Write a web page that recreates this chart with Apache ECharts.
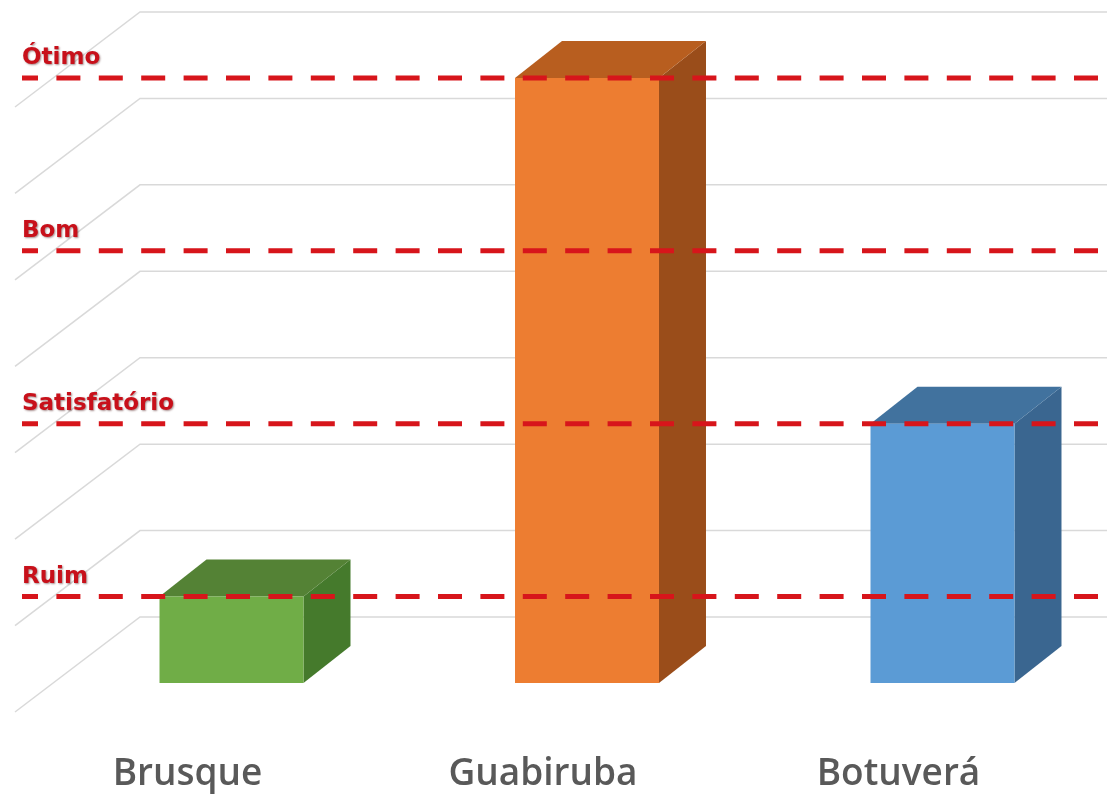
<!DOCTYPE html>
<html>
<head>
<meta charset="utf-8">
<script src="https://cdn.jsdelivr.net/npm/echarts@6/dist/echarts.min.js"></script>
<style>html,body{margin:0;padding:0;background:#fff;}#c{width:1107px;height:798px;}</style>
</head>
<body>
<div id="c"></div>
<script>
var categories = ['Brusque', 'Guabiruba', 'Botuverá'];
var values = [1, 7, 3];
var gridValues = [0, 1, 2, 3, 4, 5, 6, 7];
var levelNames = ['Ruim', 'Satisfatório', 'Bom', 'Ótimo'];
var levelValues = [1, 3, 5, 7];
var frontColors = ['#70AD47', '#ED7D31', '#5B9BD5'];
var topColors = ['#548235', '#B85E1F', '#41729E'];
var sideColors = ['#457A2C', '#9A4D1A', '#3A6690'];

var chart = echarts.init(document.getElementById('c'), null, {renderer: 'canvas'});

var DX = 47, DY = -37;          // bar depth offset
var WALL_DY = -66;              // back wall shift
var SIDE_BACK_X = 140, SIDE_FRONT_X = 15, SIDE_DY = 95;

var option = {
  animation: false,
  backgroundColor: '#ffffff',
  grid: {left: 231.5, right: 164.5, top: 78, bottom: 115, containLabel: false},
  xAxis: {
    type: 'category',
    data: categories,
    boundaryGap: false,
    axisLine: {show: false},
    axisTick: {show: false},
    splitLine: {show: false},
    axisLabel: {
      margin: 73,
      fontFamily: 'Open Sans',
      fontWeight: 600,
      fontSize: 37,
      color: '#595959',
      padding: [0, 88, 0, 0]
    }
  },
  yAxis: {
    type: 'value', min: 0, max: 7, interval: 1,
    axisLine: {show: false}, axisTick: {show: false},
    axisLabel: {show: false}, splitLine: {show: false}
  },
  series: [
    {
      type: 'custom',
      name: 'grid',
      data: gridValues.map(function (v) { return [0, v]; }),
      z: 1,
      silent: true,
      clip: false,
      renderItem: function (params, api) {
        var p = api.coord([0, api.value(1)]);
        var by = p[1] + WALL_DY;
        return {
          type: 'polyline',
          shape: {points: [[SIDE_FRONT_X, by + SIDE_DY], [SIDE_BACK_X, by], [1107, by]]},
          style: {stroke: '#d9d9d9', lineWidth: 1.5, fill: null}
        };
      }
    },
    {
      type: 'custom',
      name: 'bars',
      data: values.map(function (v, i) { return [i, v]; }),
      z: 2,
      clip: false,
      renderItem: function (params, api) {
        var i = api.value(0);
        var top = api.coord([i, api.value(1)]);
        var base = api.coord([i, 0]);
        var w = api.size([1, 0])[0] * 0.405;
        var x0 = top[0] - w / 2, x1 = top[0] + w / 2;
        var yt = top[1], yb = base[1];
        return {
          type: 'group',
          children: [
            {type: 'polygon', shape: {points: [[x1, yt], [x1 + DX, yt + DY], [x1 + DX, yb + DY], [x1, yb]]},
             style: {fill: sideColors[i]}},
            {type: 'polygon', shape: {points: [[x0, yt], [x0 + DX, yt + DY], [x1 + DX, yt + DY], [x1, yt]]},
             style: {fill: topColors[i]}},
            {type: 'rect', shape: {x: x0, y: yt, width: w, height: yb - yt},
             style: {fill: frontColors[i]}}
          ]
        };
      }
    },
    {
      type: 'custom',
      name: 'levels',
      data: levelValues.map(function (v, i) { return [0, v, i]; }),
      z: 3,
      silent: true,
      clip: false,
      renderItem: function (params, api) {
        var p = api.coord([0, api.value(1)]);
        var y = p[1];
        return {
          type: 'group',
          children: [
            {type: 'line', shape: {x1: 22, y1: y, x2: 1107, y2: y},
             style: {stroke: '#D7151B', lineWidth: 5, lineDash: [24, 18.4], lineDashOffset: 8}},
            {type: 'text', style: {
              text: levelNames[api.value(2)], x: 22, y: y - 8,
              verticalAlign: 'bottom', align: 'left',
              font: 'bold 23px "DejaVu Sans"', fill: '#C8101A',
              textShadowColor: 'rgba(60,0,0,0.45)', textShadowBlur: 2, textShadowOffsetX: 1, textShadowOffsetY: 1
            }}
          ]
        };
      }
    }
  ]
};
chart.setOption(option);
</script>
</body>
</html>
